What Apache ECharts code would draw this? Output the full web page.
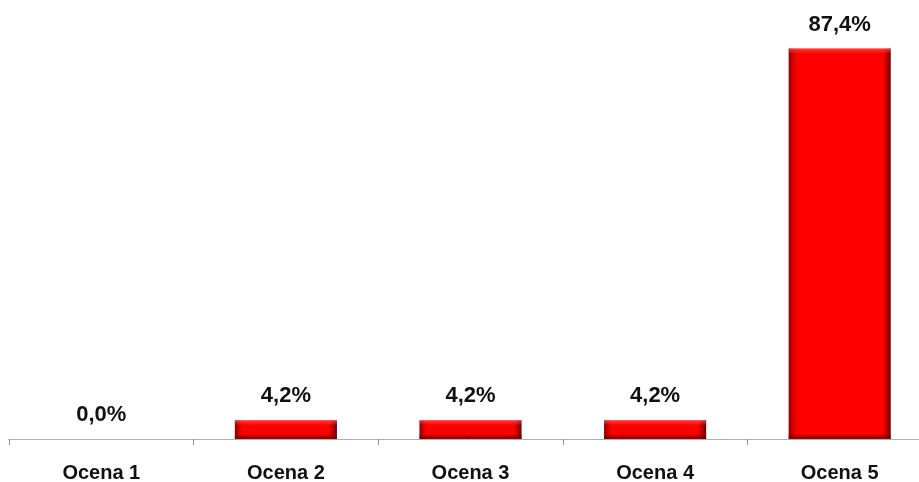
<!DOCTYPE html>
<html><head><meta charset="utf-8">
<script src="https://cdn.jsdelivr.net/npm/echarts@6/dist/echarts.min.js"></script>
<style>html,body{margin:0;padding:0;background:#fff}#c{width:919px;height:482px}</style>
</head><body><div id="c"></div>
<script>
const categories = ["Ocena 1", "Ocena 2", "Ocena 3", "Ocena 4", "Ocena 5"];
const values = [0.0, 4.2, 4.2, 4.2, 87.4];

const GRID_TOP = 37, GRID_BOTTOM = 43, Y_MAX = 90, H = 482;
const pxPerUnit = (H - GRID_TOP - GRID_BOTTOM) / Y_MAX;
const BEVEL = 5;

const sideGrad = new echarts.graphic.LinearGradient(0, 0, 1, 0, [
  { offset: 0, color: '#8a0000' },
  { offset: 0.05, color: '#e00000' },
  { offset: 0.08, color: '#ff0000' },
  { offset: 0.92, color: '#ff0000' },
  { offset: 0.95, color: '#d00000' },
  { offset: 1, color: '#6a0000' }
]);

const overlayData = values.map(v => {
  const h = Math.max(v * pxPerUnit, 1);
  const t = Math.min(BEVEL / h, 0.45);
  return {
    value: v,
    itemStyle: {
      color: new echarts.graphic.LinearGradient(0, 0, 0, 1, [
        { offset: 0, color: 'rgba(255,120,120,0.55)' },
        { offset: t * 0.8, color: 'rgba(255,60,60,0.25)' },
        { offset: t, color: 'rgba(255,0,0,0)' },
        { offset: 1 - t, color: 'rgba(120,0,0,0)' },
        { offset: 1 - t * 0.7, color: 'rgba(140,0,0,0.55)' },
        { offset: 1, color: 'rgba(110,0,0,0.75)' }
      ])
    }
  };
});

const chart = echarts.init(document.getElementById('c'));
chart.setOption({
  animation: false,
  grid: { left: 9, width: 923, top: GRID_TOP, bottom: GRID_BOTTOM, containLabel: false, outerBoundsMode: 'none' },
  xAxis: {
    type: 'category',
    data: categories,
    axisLine: { lineStyle: { color: '#b0b0b0', width: 1 } },
    axisTick: { show: true, length: 6, lineStyle: { color: '#909090' } },
    axisLabel: { margin: 24, color: '#111', fontFamily: 'Liberation Sans', fontWeight: 'bold', fontSize: 20 }
  },
  yAxis: { type: 'value', min: 0, max: Y_MAX, show: false, splitLine: { show: false } },
  series: [{
    type: 'bar',
    data: values,
    barWidth: '55.3%',
    itemStyle: { color: sideGrad, borderWidth: 0 },
    label: {
      show: true, position: 'top', distance: 13,
      formatter: p => p.value.toFixed(1).replace('.', ',') + '%',
      color: '#111', fontFamily: 'Liberation Sans', fontWeight: 'bold', fontSize: 22
    }
  }, {
    type: 'bar',
    data: overlayData,
    barWidth: '55.3%',
    barGap: '-100%',
    silent: true,
    label: { show: false }
  }]
});
</script></body></html>
